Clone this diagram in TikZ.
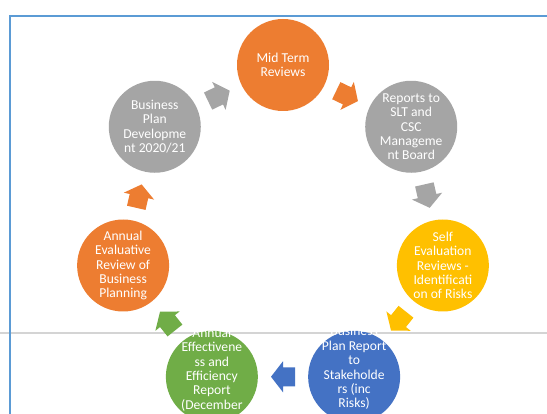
\documentclass[tikz,border=0pt]{standalone}
\usepackage{fontspec}
\setmainfont{Carlito}
\usetikzlibrary{calc}
\definecolor{cOrange}{HTML}{ED7D31}
\definecolor{cGrey}{HTML}{A5A5A5}
\definecolor{cYellow}{HTML}{FFC000}
\definecolor{cBlue}{HTML}{4472C4}
\definecolor{cGreen}{HTML}{70AD47}
\definecolor{cFrame}{HTML}{5B9BD5}
\definecolor{cRule}{HTML}{D4D4D4}
\begin{document}
\begin{tikzpicture}[x=1pt,y=1pt,
  stage/.style={circle, fill=#1, minimum size=92pt, inner sep=0pt, text=white, align=center, font=\fontsize{13.6}{14.4}\selectfont},
  stagetext/.style={text=white, align=center, inner sep=0pt, font=\fontsize{13.6}{14.4}\selectfont}]
\fill[white] (0,-414) rectangle (547,0);
\useasboundingbox (0,-414) rectangle (547,0);
\coordinate (C) at (283,-229);
\draw[cRule, line width=1.5pt] (0,-333) -- (547,-333);
\draw[cFrame, line width=1.3pt] (10,-416) -- (10,-16) -- (549,-16);
\node[stage=cOrange] (mid) at ($(C)+(90:164pt)$) {Mid Term\\Reviews};
\node[stage=cGrey] (rep) at ($(C)+(38.57:164pt)$) {Reports to\\SLT and\\CSC\\Manageme\\nt Board};
\node[stage=cYellow] (self) at ($(C)+(-12.86:164pt)$) {Self\\Evaluation\\Reviews -\\Identificati\\on of Risks};
\node[stage=cBlue] (bpr) at ($(C)+(-64.29:164pt)$) {};
\node[stagetext] (bprtext) at ($(bpr)+(0,8.5)$) {Business\\Plan Report\\to\\Stakeholde\\rs (inc\\Risks)};
\node[stage=cGreen] (aer) at ($(C)+(-115.71:164pt)$) {};
\node[stagetext] (aertext) at ($(aer)+(0,7.2)$) {Annual\\Effectivene\\ss and\\Efficiency\\Report\\(December};
\node[stage=cOrange] (aeb) at ($(C)+(-167.14:164pt)$) {Annual\\Evaluative\\Review of\\Business\\Planning};
\node[stage=cGrey] (bpd) at ($(C)+(141.43:164pt)$) {Business\\Plan\\Developme\\nt 2020/21};
\foreach \a/\b/\ang/\col in {bpd/mid/25.71/cGrey, mid/rep/-25.71/cOrange, rep/self/-77.14/cGrey, self/bpr/-128.57/cYellow, bpr/aer/180/cBlue, aer/aeb/128.57/cGreen, aeb/bpd/77.14/cOrange}{
  \begin{scope}[shift={($(\a)!0.5!(\b)$)}, rotate=\ang]
    \fill[\col] (-12,9.5) -- (0,9.5) -- (0,15.5) -- (12,0) -- (0,-15.5) -- (0,-9.5) -- (-12,-9.5) -- cycle;
  \end{scope}
}
\end{tikzpicture}
\end{document}
